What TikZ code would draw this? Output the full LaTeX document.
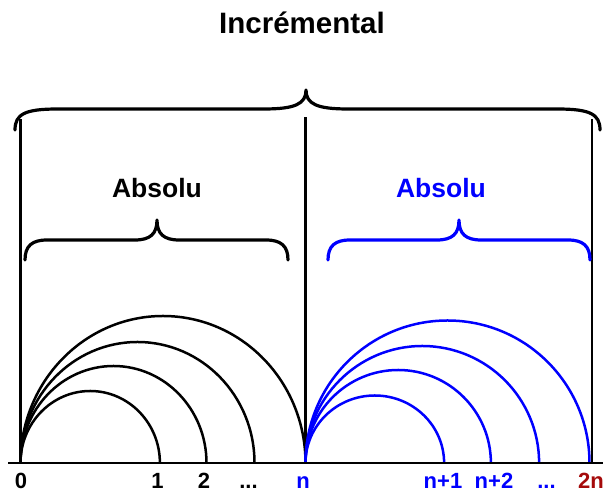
\documentclass[tikz,border=0pt]{standalone}
\usepackage{fontspec}
\setmainfont{Liberation Sans}
\definecolor{myblue}{RGB}{0,0,255}
\definecolor{myred}{RGB}{165,10,10}
\begin{document}
\begin{tikzpicture}[x=1pt,y=1pt,
  bracestyle/.style={line width=3.2pt,line cap=round,line join=round},
  arcstyle/.style={line width=2.5pt},
  vline/.style={line width=2.2pt},
  lbl/.style={anchor=base,inner sep=0pt,text depth=0pt,font=\fontsize{22}{23}\selectfont\bfseries},
  ttl/.style={anchor=base,inner sep=0pt,font=\fontsize{29.5}{30}\selectfont\bfseries},
  abs/.style={anchor=base,inner sep=0pt,font=\fontsize{26.5}{27}\selectfont\bfseries}]
\useasboundingbox (0,0) rectangle (603,494);
% title
\node[ttl] (title) at (302,460) {Incrémental};
% top brace
\draw[bracestyle] (15,364) .. controls (15,380) and (25,385) .. (58,385) -- (264,385)
  .. controls (295,385) and (306,390) .. (306,404)
  .. controls (306,390) and (317,385) .. (348,385) -- (557,385)
  .. controls (590,385) and (600,380) .. (600,364);
% vertical lines
\coordinate (vl0) at (20.5,31);
\coordinate (vm0) at (305.5,31);
\coordinate (vr0) at (592,31);
\draw[vline] (vl0) -- (20.5,375);
\draw[vline] (vm0) -- (305.5,377);
\draw[vline] (vr0) -- (592,375);
% small braces
\node[abs] (abs1) at (157,296) {Absolu};
\node[abs,text=myblue] (abs2) at (441,296) {Absolu};
\draw[bracestyle] (25,234) .. controls (25,248) and (32,254) .. (47,254) -- (135,254)
  .. controls (150,254) and (157,260) .. (157,274)
  .. controls (157,260) and (164,254) .. (179,254) -- (266,254)
  .. controls (281,254) and (288,248) .. (288,234);
\draw[bracestyle,myblue] (328,234) .. controls (328,248) and (335,254) .. (350,254) -- (437,254)
  .. controls (452,254) and (459,260) .. (459,274)
  .. controls (459,260) and (466,254) .. (481,254) -- (568,254)
  .. controls (583,254) and (590,248) .. (590,234);
% left arcs
\draw[arcstyle] (vl0) arc[start angle=180,end angle=0,x radius=69.7,y radius=72];
\draw[arcstyle] (vl0) arc[start angle=180,end angle=0,x radius=93,y radius=97];
\draw[arcstyle] (vl0) arc[start angle=180,end angle=0,x radius=117,y radius=121];
\draw[arcstyle] (vl0) arc[start angle=180,end angle=0,x radius=142.5,y radius=147];
% right arcs
\draw[arcstyle,myblue] (vm0) arc[start angle=180,end angle=0,x radius=69.3,y radius=67.5];
\draw[arcstyle,myblue] (vm0) arc[start angle=180,end angle=0,x radius=92.7,y radius=93];
\draw[arcstyle,myblue] (vm0) arc[start angle=180,end angle=0,x radius=116.8,y radius=117];
\draw[arcstyle,myblue] (vm0) arc[start angle=180,end angle=0,x radius=142,y radius=142.5];
% baseline
\coordinate (b0) at (8,31);
\coordinate (b1) at (603,31);
\draw[line width=2.6pt] (b0) -- (b1);
% labels
\node[lbl] (l0) at (21,5) {0};
\node[lbl] (l1) at (157.5,5) {1};
\node[lbl] (l2) at (204,5) {2};
\node[lbl] (l3) at (248.5,5) {...};
\node[lbl,text=myblue] (ln) at (303,5) {n};
\node[lbl,text=myblue] (ln1) at (443,5) {n+1};
\node[lbl,text=myblue] (ln2) at (494,5) {n+2};
\node[lbl,text=myblue] (ln3) at (546.5,5) {...};
\node[lbl,text=myred,anchor=base west] (l2n) at (578,5) {2n};
\end{tikzpicture}
\end{document}
